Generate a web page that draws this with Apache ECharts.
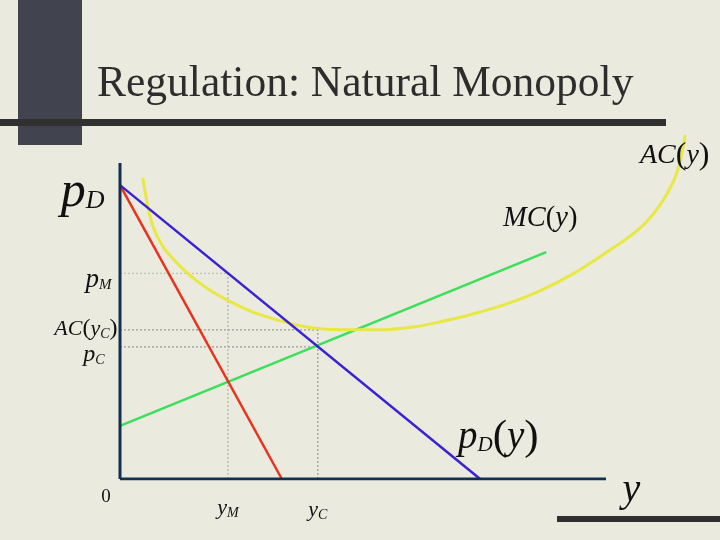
<!DOCTYPE html>
<html>
<head>
<meta charset="utf-8">
<script src="https://cdn.jsdelivr.net/npm/echarts@6/dist/echarts.min.js"></script>
<style>
  html, body { margin: 0; padding: 0; background: #ebeadf; }
  #main { width: 720px; height: 540px; }
</style>
</head>
<body>
<div id="main"></div>
<script>
// quantity runs 0..100 along the drawn axis, price 0..100 up the drawn axis
var demandLine = [[0, 93], [74.1, 0]];
var marginalRevenue = [[0, 93], [33.3, 0]];
var marginalCost = [[0, 16.8], [87.7, 71.8]];

var avgCostQty = [4.7, 5.6, 6.8, 8.9, 12.4, 15.8, 19.1, 22.6, 26.1, 29.4, 34.6, 39.7, 46.7, 53.5, 60.3, 65.8, 72.6, 79.6, 86.4, 93.2, 100.2, 107.0, 111.1, 113.8, 115.2, 116.3];
var avgCostVal = [95.3, 87.3, 79.8, 73.4, 67.3, 62.7, 59.2, 56.2, 53.6, 51.7, 49.4, 47.8, 47.2, 47.2, 48.1, 49.7, 52.2, 55.4, 59.5, 64.9, 71.8, 79.4, 86.7, 94.0, 100.3, 108.9];

// marked points on the axes
var qtyMonopoly = 22.2, qtyCompetitive = 40.7;
var priceDemandMax = 93, priceMonopoly = 65.1, avgCostAtYc = 47.2, priceCompetitive = 41.8;
var axisEnd = 100;

var yTickValues = [priceDemandMax, priceMonopoly, avgCostAtYc, priceCompetitive];
var yTickLabels = ['{pb|p}{sb|D}', '{pm|p}{sm|M}', '{ac|AC}{pr|(}{ac|y}{sa|C}{pr|)}', '{pc|p}{sc|C}'];
var xTickValues = [0, qtyMonopoly, qtyCompetitive];
var xTickLabels = ['{zero|0}', '{q|y}{qs|M}', '{q|y}{qs|C}'];

var avgCost = [];
for (var i = 0; i < avgCostQty.length; i++) {
    avgCost.push([avgCostQty[i], avgCostVal[i]]);
}

var serif = 'Liberation Serif';
var ink = '#111';
var chart = echarts.init(document.getElementById('main'));

function guide(points, color) {
    return {
        type: 'line', data: points, symbol: 'none', silent: true,
        lineStyle: { color: color || '#9a9a96', width: 1.2, type: [2, 2] }
    };
}

// label placement per tick: [distance, offsetY]
var yTickPlace = [[15, 8], [8, 7], [2, -1], [15, 8]];
var yTickData = yTickValues.map(function (v, idx) {
    return {
        value: [0, v],
        label: { position: 'left', formatter: yTickLabels[idx], distance: yTickPlace[idx][0], offset: [0, yTickPlace[idx][1]] }
    };
});
var xTickPlace = [[-14, 0], [0, 9], [0, 11]];
var xTickData = xTickValues.map(function (v, idx) {
    return {
        value: [v, 0],
        label: { position: 'bottom', formatter: xTickLabels[idx], distance: 8, offset: xTickPlace[idx] }
    };
});
xTickData.push({
    value: [axisEnd, 0],
    label: { position: 'right', formatter: '{name|y}', distance: 16, offset: [0, 11] }
});

var option = {
    backgroundColor: '#ebeadf',
    animation: false,
    title: {
        text: 'Regulation: Natural Monopoly',
        left: 92, top: 58,
        textStyle: { fontFamily: serif, fontSize: 43.5, fontWeight: 'normal', color: '#2d2d2d' }
    },
    grid: { left: 120, top: 131.4, width: 583.2, height: 347.6 },
    xAxis: { type: 'value', min: 0, max: 120, show: false },
    yAxis: { type: 'value', min: 0, max: 110, show: false },
    graphic: [
        { type: 'rect', z: -1, shape: { x: 18, y: 0, width: 64, height: 145 }, style: { fill: '#41434f' } },
        { type: 'rect', z: -1, shape: { x: 0, y: 119, width: 666, height: 7 }, style: { fill: '#303030' } },
        { type: 'rect', z: -1, shape: { x: 557, y: 516, width: 163, height: 6 }, style: { fill: '#303030' } },
        {
            type: 'text', left: 640, top: 140, z: 10,
            style: {
                text: '{a|AC}{b|(}{a|y}{b|)}',
                rich: {
                    a: { fontFamily: serif, fontStyle: 'italic', fontSize: 28, fill: ink },
                    b: { fontFamily: serif, fontSize: 32, fill: ink }
                }
            }
        },
        {
            type: 'text', left: 503, top: 204, z: 10,
            style: {
                text: '{a|MC}{b|(}{a|y}{b|)}',
                rich: {
                    a: { fontFamily: serif, fontStyle: 'italic', fontSize: 28.5, fill: ink },
                    b: { fontFamily: serif, fontSize: 28.5, fill: ink }
                }
            }
        },
        {
            type: 'text', left: 458, top: 416, z: 10,
            style: {
                text: '{a|p}{s|D}{b|(}{a|y}{b|)}',
                rich: {
                    a: { fontFamily: serif, fontStyle: 'italic', fontSize: 39, fill: ink },
                    s: { fontFamily: serif, fontStyle: 'italic', fontSize: 21, fill: ink, padding: [15, 0, 0, 0] },
                    b: { fontFamily: serif, fontSize: 43, fill: ink }
                }
            }
        }
    ],
    series: [
        guide([[0, priceMonopoly], [qtyMonopoly, priceMonopoly]], '#c2c1b8'),
        guide([[qtyMonopoly, 0], [qtyMonopoly, priceMonopoly]], '#b4b3aa'),
        guide([[0, avgCostAtYc], [qtyCompetitive, avgCostAtYc]]),
        guide([[0, priceCompetitive], [qtyCompetitive, priceCompetitive]]),
        guide([[qtyCompetitive, 0], [qtyCompetitive, avgCostAtYc]]),
        {
            name: 'MC', type: 'line', data: marginalCost, symbol: 'none',
            lineStyle: { color: '#3ae05a', width: 2.5 }
        },
        {
            name: 'MR', type: 'line', data: marginalRevenue, symbol: 'none',
            lineStyle: { color: '#e8321e', width: 2.5 }
        },
        {
            name: 'AC', type: 'line', data: avgCost, symbol: 'none', smooth: 0.35, clip: false,
            lineStyle: { color: '#e8e845', width: 3 }
        },
        {
            name: 'Demand', type: 'line', data: demandLine, symbol: 'none',
            lineStyle: { color: '#3a22d2', width: 2.5 }
        },
        {
            name: 'quantity axis', type: 'line', data: [[0, 0], [axisEnd, 0]], symbol: 'none', z: 5,
            lineStyle: { color: '#12304f', width: 3 }
        },
        {
            name: 'price axis', type: 'line', data: [[0, 0], [0, axisEnd]], symbol: 'none', z: 5,
            lineStyle: { color: '#12304f', width: 3 }
        },
        {
            name: 'price ticks', type: 'scatter', data: yTickData, symbolSize: 1, silent: true, clip: false,
            itemStyle: { color: 'transparent', opacity: 1 },
            label: {
                show: true, color: ink,
                rich: {
                    pb: { fontFamily: serif, fontStyle: 'italic', fontSize: 50, color: ink },
                    sb: { fontFamily: serif, fontStyle: 'italic', fontSize: 26, color: ink, padding: [16, 0, 0, 0] },
                    pm: { fontFamily: serif, fontStyle: 'italic', fontSize: 27, color: ink },
                    sm: { fontFamily: serif, fontStyle: 'italic', fontSize: 15, color: ink, padding: [10, 0, 0, 0] },
                    ac: { fontFamily: serif, fontStyle: 'italic', fontSize: 22, color: ink },
                    sa: { fontFamily: serif, fontStyle: 'italic', fontSize: 14, color: ink, padding: [10, 0, 0, 0] },
                    pr: { fontFamily: serif, fontSize: 24, color: ink },
                    pc: { fontFamily: serif, fontStyle: 'italic', fontSize: 24, color: ink },
                    sc: { fontFamily: serif, fontStyle: 'italic', fontSize: 14, color: ink, padding: [10, 0, 0, 0] }
                }
            }
        },
        {
            name: 'quantity ticks', type: 'scatter', data: xTickData, symbolSize: 1, silent: true, clip: false,
            itemStyle: { color: 'transparent', opacity: 1 },
            label: {
                show: true, color: ink,
                rich: {
                    zero: { fontFamily: serif, fontSize: 19, color: ink },
                    q: { fontFamily: serif, fontStyle: 'italic', fontSize: 22, color: ink },
                    qs: { fontFamily: serif, fontStyle: 'italic', fontSize: 14, color: ink, padding: [10, 0, 0, 0] },
                    name: { fontFamily: serif, fontStyle: 'italic', fontSize: 40, color: ink }
                }
            }
        }
    ]
};

chart.setOption(option);
</script>
</body>
</html>
